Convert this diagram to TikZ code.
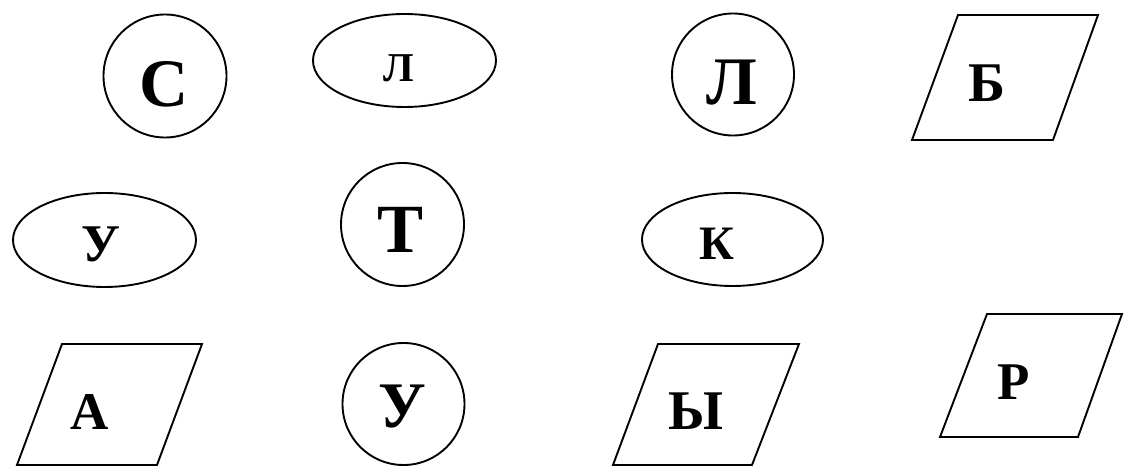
\documentclass[tikz,border=0pt]{standalone}
\usepackage{fontspec}
\setmainfont{Liberation Serif}
\usetikzlibrary{shapes.geometric}
\tikzset{
  shapeline/.style={draw=black, line width=1.9bp},
  roundshape/.style={shapeline, ellipse, inner sep=0pt, outer sep=0pt},
  parashape/.style={shapeline, line join=miter},
  letter/.style={anchor=base, inner sep=0pt, font=\bfseries\fontsize{#1bp}{#1bp}\selectfont, text=black},
}
\begin{document}
\begin{tikzpicture}[x=1bp, y=-1bp]
\useasboundingbox[fill=white] (0,0) rectangle (1126,466);

% circles
\node[roundshape, minimum width=123bp, minimum height=123bp] (cS) at (165,76) {};
\node[roundshape, minimum width=122bp, minimum height=122bp] (cL) at (733,74.5) {};
\node[roundshape, minimum width=123bp, minimum height=123bp] (cT) at (402.5,224.5) {};
\node[roundshape, minimum width=122bp, minimum height=122bp] (cU) at (403.5,404) {};

% ellipses
\node[roundshape, minimum width=183bp, minimum height=93bp] (eL) at (404.5,60.5) {};
\node[roundshape, minimum width=183bp, minimum height=94bp] (eU) at (104.5,240) {};
\node[roundshape, minimum width=181bp, minimum height=93bp] (eK) at (732.5,239.5) {};

% parallelograms
\draw[parashape] (958,15) coordinate (pB) -- (1098,15) -- (1053,140) -- (912,140) -- cycle;
\draw[parashape] (62,344) coordinate (pA) -- (202,344) -- (157,465) -- (17,465) -- cycle;
\draw[parashape] (658,344) coordinate (pY) -- (799,344) -- (752,465) -- (613,465) -- cycle;
\draw[parashape] (987,314) coordinate (pR) -- (1122,314) -- (1078,437) -- (940,437) -- cycle;

% letters
\node[letter=68] (tS) at (164.5,107) {С};
\node[letter=41] (tLe) at (398.5,82) {Л};
\node[letter=68] (tLc) at (731.5,105) {Л};
\node[letter=56] (tB) at (987,102) {Б};
\node[letter=53] (tUe) at (101,262) {У};
\node[letter=69] (tT) at (401,253) {Т};
\node[letter=48] (tK) at (717,260) {К};
\node[letter=53] (tA) at (90,430) {А};
\node[letter=65] (tUc) at (402.5,428) {У};
\node[letter=56] (tY) at (696,430) {Ы};
\node[letter=53] (tR) at (1014,400) {Р};
\end{tikzpicture}
\end{document}
